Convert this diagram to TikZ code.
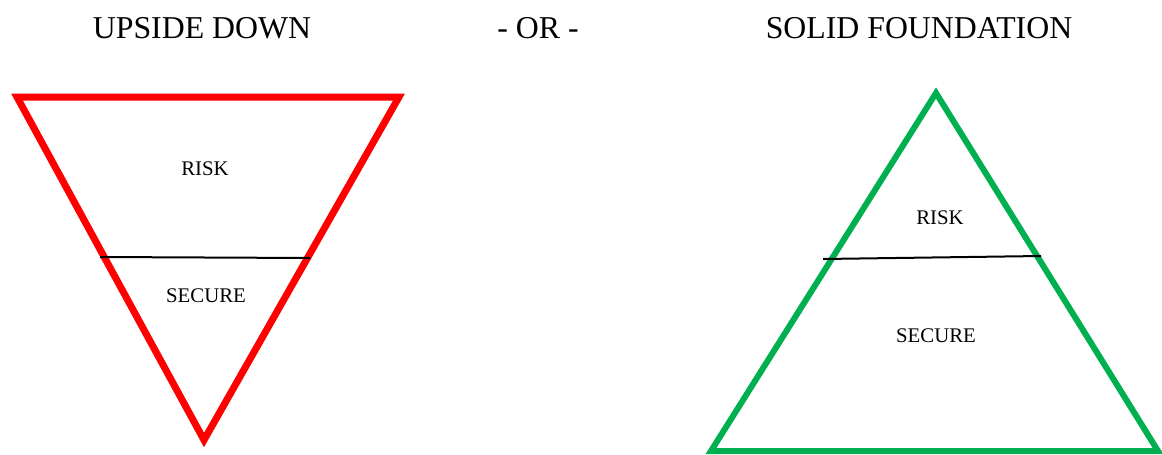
\documentclass[tikz,border=0pt]{standalone}
\usepackage{fontspec}
\setmainfont{Liberation Serif}
\definecolor{tred}{RGB}{255,0,0}
\definecolor{tgreen}{RGB}{0,176,80}
\begin{document}
\begin{tikzpicture}[x=1pt,y=-1pt,
  title/.style={font=\fontsize{31.8}{36}\selectfont, inner sep=0pt},
  lbl/.style={font=\fontsize{20.8}{24}\selectfont, inner sep=0pt},
  redtri/.style={draw=tred, line width=7pt, line join=miter},
  greentri/.style={draw=tgreen, line width=6pt, line join=miter},
  divider/.style={draw=black, line width=2pt}]
\useasboundingbox (0,0) rectangle (1162,455);
\node[title] (t1) at (202,28) {UPSIDE DOWN};
\node[title] (t2) at (538,28) {- OR -};
\node[title] (t3) at (919,28) {SOLID FOUNDATION};
% red inverted triangle
\coordinate (ra) at (17,97);
\coordinate (rb) at (399,97);
\coordinate (rc) at (204,440);
\draw[redtri] (ra) -- (rb) -- (rc) -- cycle;
\coordinate (rl1) at (100,257);
\coordinate (rl2) at (310,258);
\draw[divider] (rl1) -- (rl2);
\node[lbl] (r1) at (205,169) {RISK};
\node[lbl] (r2) at (206,296) {SECURE};
% green triangle
\coordinate (ga) at (936,93);
\coordinate (gb) at (711,451);
\coordinate (gc) at (1158,451);
\draw[greentri] (ga) -- (gc) -- (gb) -- cycle;
\coordinate (gl1) at (823,259);
\coordinate (gl2) at (1041,256);
\draw[divider] (gl1) -- (gl2);
\node[lbl] (g1) at (940,218) {RISK};
\node[lbl] (g2) at (936,336) {SECURE};
\end{tikzpicture}
\end{document}
